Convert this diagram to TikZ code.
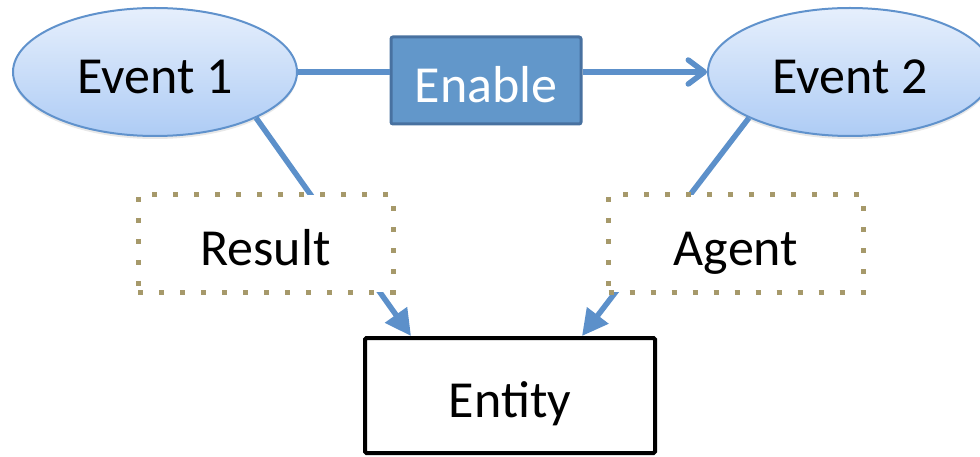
\documentclass[tikz,border=0pt]{standalone}
\usepackage{fontspec}
\setmainfont{Carlito}
\usetikzlibrary{arrows.meta,shapes.geometric,shadows}

\definecolor{linkblue}{RGB}{92,144,202}
\definecolor{evtborder}{RGB}{96,146,204}
\definecolor{evttop}{RGB}{230,239,252}
\definecolor{evtbottom}{RGB}{174,204,245}
\definecolor{enfill}{RGB}{98,151,202}
\definecolor{enborder}{RGB}{72,113,160}
\definecolor{roledot}{RGB}{166,153,106}

\tikzset{
  txt/.style={font=\fontsize{52pt}{62pt}\selectfont, text height=54.5pt, text depth=11pt, inner sep=0pt},
  event/.style={txt, ellipse, draw=evtborder, line width=2pt,
    top color=evttop, bottom color=evtbottom,
    minimum width=284pt, minimum height=128pt,
    drop shadow={opacity=0.18, shadow xshift=0pt, shadow yshift=-3pt}},
  relbox/.style={txt, rectangle, rounded corners=2pt, draw=enborder, line width=3pt,
    fill=enfill, text=white, minimum width=190pt, minimum height=87pt},
  rolebox/.style={txt, rectangle, fill=white, draw=roledot, line width=5pt,
    dash pattern=on 5pt off 16pt, minimum width=255pt, minimum height=97pt},
  entbox/.style={txt, rectangle, rounded corners=1.5pt, draw=black, line width=4pt,
    fill=white, minimum width=290pt, minimum height=115pt},
  link/.style={draw=linkblue, line width=5.5pt},
  enablearrow/.style={link, -{Straight Barb[length=16pt,width=24pt,round]}},
  rolearrow/.style={link, -{Triangle[length=26pt,width=26pt]}}
}

\begin{document}
\begin{tikzpicture}[x=1pt,y=-1pt]
  \useasboundingbox (0,0) rectangle (980,457);
  \clip (0,0) rectangle (980,457);

  % events, relation and entity
  \node[event]   (e1)  at (155,72)      {Event 1};
  \node[event]   (e2)  at (850,72)      {Event 2};
  \node[relbox]  (en)  at (486,80.5)    {Enable};
  \node[entbox]  (ent) at (510,395.5)   {Entity};

  % role links from the events to the entity
  \draw[rolearrow] (e1.south east) -- ([xshift=48pt]ent.north west);
  \draw[rolearrow] (e2.south west) -- ([xshift=-75pt]ent.north east);

  % role labels sit on top of the links
  \node[rolebox] (res) at (265.5,243.5) {Result};
  \node[rolebox] (agt) at (736,243.5)   {Agent};

  % enable relation between the events, level with the event centres
  \draw[link] (e1.east) -- (en.west |- e1.east);
  \draw[enablearrow] (en.east |- e2.west) -- (e2.west);
\end{tikzpicture}
\end{document}
